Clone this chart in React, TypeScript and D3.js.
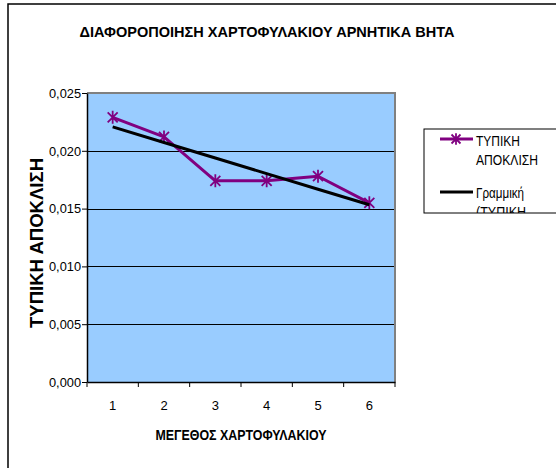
import React, { useRef, useEffect } from 'react';
import * as d3 from 'd3';

const categories = ['1', '2', '3', '4', '5', '6'];
const stdDev = [0.0229, 0.0212, 0.0174, 0.0174, 0.0178, 0.0155];
const yTicks = [0, 0.005, 0.01, 0.015, 0.02, 0.025];

const title = 'ΔΙΑΦΟΡΟΠΟΙΗΣΗ ΧΑΡΤΟΦΥΛΑΚΙΟΥ ΑΡΝΗΤΙΚΑ  ΒΗΤΑ';
const xTitle = 'ΜΕΓΕΘΟΣ ΧΑΡΤΟΦΥΛΑΚΙΟΥ';
const yTitle = 'ΤΥΠΙΚΗ ΑΠΟΚΛΙΣΗ';
const legendSeries = ['ΤΥΠΙΚΗ', 'ΑΠΟΚΛΙΣΗ'];
const legendTrend = ['Γραμμική', '(ΤΥΠΙΚΗ'];

const App = () => {
    const ref = useRef<HTMLDivElement>(null);

    useEffect(() => {
        const width = 556;
        const height = 468;
        const left = 87;
        const right = 395;
        const top = 93;
        const bottom = 382;
        const font = "'Liberation Sans', Arial, sans-serif";
        const purple = '#800080';

        const x = d3.scaleBand(categories, [left, right]);
        const y = d3.scaleLinear([0, 0.025], [bottom, top]);
        const fmt = (v: number) => d3.format('.3f')(v).replace('.', ',');

        // least squares trendline
        const xs = categories.map((_, i) => i + 1);
        const mx = d3.mean(xs)!;
        const my = d3.mean(stdDev)!;
        const slope = d3.sum(xs, (v, i) => (v - mx) * (stdDev[i] - my)) / d3.sum(xs, v => (v - mx) ** 2);
        const trend = xs.map(v => my + slope * (v - mx));

        const svg = d3.create('svg')
            .attr('width', width)
            .attr('height', height)
            .attr('viewBox', [0, 0, width, height])
            .style('position', 'absolute')
            .style('left', '0px')
            .style('top', '0px')
            .style('background', '#fff')
            .style('font-family', font);

        // outer chart border (runs off the right/bottom)
        svg.append('rect')
            .attr('x', 8).attr('y', 4)
            .attr('width', 620).attr('height', 520)
            .attr('fill', 'none').attr('stroke', '#000').attr('stroke-width', 1.5);

        svg.append('text')
            .attr('x', 267).attr('y', 37)
            .attr('text-anchor', 'middle')
            .attr('font-weight', 'bold').attr('font-size', 15)
            .attr('textLength', 375).attr('lengthAdjust', 'spacingAndGlyphs')
            .text(title);

        // plot area
        svg.append('rect')
            .attr('x', left).attr('y', top)
            .attr('width', right - left).attr('height', bottom - top)
            .attr('fill', '#99ccff');

        svg.append('g')
            .selectAll('line')
            .data(yTicks.slice(1, -1))
            .join('line')
            .attr('x1', left).attr('x2', right)
            .attr('y1', d => Math.round(y(d)) + 0.5).attr('y2', d => Math.round(y(d)) + 0.5)
            .attr('stroke', '#000').attr('stroke-width', 1);

        svg.append('path')
            .attr('d', `M${left},${top}H${right}V${bottom}`)
            .attr('fill', 'none').attr('stroke', '#808080').attr('stroke-width', 2);

        // y axis
        const gy = svg.append('g')
            .attr('transform', `translate(${left},0)`)
            .call(d3.axisLeft(y).tickValues(yTicks).tickFormat(d => fmt(d as number)).tickSize(5).tickSizeOuter(0));
        gy.select('.domain').attr('stroke', '#000').attr('stroke-width', 1.5);
        gy.selectAll('.tick line').attr('stroke', '#000');
        gy.selectAll('.tick text')
            .attr('font-family', font).attr('font-size', 12.5).attr('fill', '#000')
            .attr('x', -6).attr('dy', '0.35em')
            .attr('textLength', 32).attr('lengthAdjust', 'spacingAndGlyphs');

        // x axis
        const gx = svg.append('g')
            .attr('transform', `translate(0,${bottom})`)
            .call(d3.axisBottom(x).tickSize(0).tickSizeOuter(0));
        gx.select('.domain').attr('stroke', '#000').attr('stroke-width', 1.5);
        gx.selectAll('.tick text')
            .attr('font-family', font).attr('font-size', 13).attr('fill', '#000')
            .attr('y', 19).attr('dy', '0.71em');
        gx.append('g')
            .selectAll('line')
            .data(d3.range(categories.length + 1))
            .join('line')
            .attr('x1', i => left + i * x.step()).attr('x2', i => left + i * x.step())
            .attr('y1', 0).attr('y2', 5)
            .attr('stroke', '#000');

        svg.append('text')
            .attr('x', 241).attr('y', 440)
            .attr('text-anchor', 'middle')
            .attr('font-weight', 'bold').attr('font-size', 15)
            .attr('textLength', 171).attr('lengthAdjust', 'spacingAndGlyphs')
            .text(xTitle);

        svg.append('text')
            .attr('transform', `translate(43,243) rotate(-90)`)
            .attr('text-anchor', 'middle')
            .attr('font-weight', 'bold').attr('font-size', 18)
            .attr('textLength', 170).attr('lengthAdjust', 'spacingAndGlyphs')
            .text(yTitle);

        const cx = (i: number) => x(categories[i])! + x.bandwidth() / 2;

        // series
        svg.append('path')
            .attr('d', d3.line<number>().x((_, i) => cx(i)).y(d => y(d))(stdDev))
            .attr('fill', 'none').attr('stroke', purple).attr('stroke-width', 3)
            .attr('stroke-linejoin', 'round');

        const star = (s: number) => `M${-s},${-s}L${s},${s}M${-s},${s}L${s},${-s}M0,${-s * 1.3}V${s * 1.3}`;

        svg.append('g')
            .selectAll('path')
            .data(stdDev)
            .join('path')
            .attr('transform', (d, i) => `translate(${cx(i)},${y(d)})`)
            .attr('d', star(5))
            .attr('fill', 'none').attr('stroke', purple).attr('stroke-width', 1.8);

        // trendline
        svg.append('path')
            .attr('d', d3.line<number>().x((_, i) => cx(i)).y(d => y(d))(trend))
            .attr('fill', 'none').attr('stroke', '#000').attr('stroke-width', 3);

        // legend (box is cut at the right and bottom, as in the original)
        const lx = 424, ly = 129, lw = 140, lh = 84;
        svg.append('clipPath').attr('id', 'legclip')
            .append('rect').attr('x', lx).attr('y', ly).attr('width', lw).attr('height', lh);
        const leg = svg.append('g');
        leg.append('rect')
            .attr('x', lx).attr('y', ly).attr('width', lw).attr('height', lh)
            .attr('fill', '#fff').attr('stroke', '#000').attr('stroke-width', 1);
        const legText = leg.append('g').attr('clip-path', 'url(#legclip)');

        const seriesLen = [44, 62];
        const trendLen = [48, 50];

        legText.append('line')
            .attr('x1', 440).attr('x2', 473).attr('y1', 139).attr('y2', 139)
            .attr('stroke', purple).attr('stroke-width', 3);
        legText.append('path')
            .attr('transform', 'translate(456,139)')
            .attr('d', star(4.5))
            .attr('fill', 'none').attr('stroke', purple).attr('stroke-width', 1.8);
        legText.selectAll('text.s')
            .data(legendSeries)
            .join('text')
            .attr('font-size', 15)
            .attr('x', 476).attr('y', (_, i) => 146 + i * 19)
            .attr('textLength', (_, i) => seriesLen[i]).attr('lengthAdjust', 'spacingAndGlyphs')
            .text(d => d);

        legText.append('line')
            .attr('x1', 440).attr('x2', 473).attr('y1', 192).attr('y2', 192)
            .attr('stroke', '#000').attr('stroke-width', 3);
        legText.selectAll('text.t')
            .data(legendTrend)
            .join('text')
            .attr('font-size', 15)
            .attr('x', 476).attr('y', (_, i) => 198 + i * 19)
            .attr('textLength', (_, i) => trendLen[i]).attr('lengthAdjust', 'spacingAndGlyphs')
            .text(d => d);

        ref.current!.appendChild(svg.node()!);
        return () => {
            if (ref.current) ref.current.innerHTML = '';
        };
    }, []);

    return <div ref={ref}></div>;
};

export default App;
